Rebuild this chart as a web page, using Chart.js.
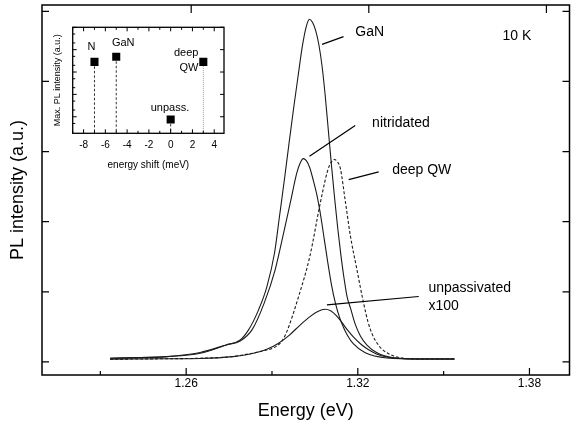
<!DOCTYPE html>
<html>
<head>
<meta charset="utf-8">
<script src="https://cdn.jsdelivr.net/npm/chart.js@4"></script>
<style>
  html, body { margin:0; padding:0; background:#fff; }
  #wrap { position:relative; width:572px; height:434px; }
  #main { position:absolute; left:0; top:0; }
  #inset { position:absolute; left:48px; top:20px; }
</style>
</head>
<body>
<div id="wrap">
  <canvas id="main" width="572" height="434" style="width:572px;height:434px"></canvas>
  <canvas id="inset" width="185" height="155" style="width:185px;height:155px"></canvas>
</div>
<script>
// main spectra, energy in eV, PL intensity in a.u.
const ganE = [1.2334,1.2532,1.2649,1.2740,1.2789,1.2818,1.2853,1.2882,1.2909,1.2926,1.2944,1.2959,1.2975,1.2992,1.3006,1.3020,1.3031,1.3042,1.3053,1.3064,1.3075,1.3086,1.3097,1.3108,1.3119,1.3130,1.3141,1.3152,1.3163,1.3175,1.3190,1.3209,1.3232,1.3267,1.3324,1.3419,1.3538];
const ganI = [0.053,0.076,0.124,0.243,0.314,0.457,0.743,1.071,1.557,2.07,2.62,3.10,3.60,4.10,4.50,4.786,4.886,4.84,4.72,4.52,4.22,3.80,3.30,2.80,2.33,1.90,1.52,1.19,0.92,0.76,0.55,0.37,0.24,0.13,0.06,0.043,0.043];

const nitE = [1.2334,1.2532,1.2649,1.2740,1.2789,1.2830,1.2873,1.2911,1.2938,1.2964,1.2987,1.2999,1.3009,1.3020,1.3032,1.3045,1.3058,1.3070,1.3082,1.3095,1.3108,1.3121,1.3135,1.3150,1.3165,1.3184,1.3226,1.3302,1.3419,1.3538];
const nitI = [0.053,0.076,0.136,0.243,0.30,0.457,0.843,1.314,1.79,2.271,2.70,2.84,2.90,2.87,2.77,2.58,2.36,2.09,1.77,1.42,1.10,0.85,0.65,0.49,0.37,0.26,0.13,0.057,0.043,0.043];

const qwE = [1.2334,1.2532,1.2649,1.2764,1.2882,1.2905,1.2929,1.2945,1.2960,1.2993,1.3032,1.3069,1.3094,1.3107,1.3118,1.3128,1.3139,1.3156,1.3174,1.3197,1.3220,1.3235,1.3250,1.3267,1.3285,1.3302,1.3337,1.3419,1.3538];
const qwI = [0.039,0.046,0.053,0.079,0.171,0.20,0.27,0.37,0.52,0.933,1.50,2.271,2.72,2.85,2.886,2.857,2.76,2.30,1.80,1.314,0.843,0.58,0.40,0.27,0.18,0.13,0.07,0.043,0.043];

const unpE = [1.2334,1.2532,1.2649,1.2764,1.2820,1.2882,1.2920,1.2960,1.2999,1.3034,1.3060,1.3085,1.3105,1.3125,1.3145,1.3165,1.3186,1.3209,1.3235,1.3265,1.3302,1.3350,1.3419,1.3538];
const unpI = [0.039,0.046,0.050,0.076,0.11,0.18,0.26,0.38,0.53,0.65,0.72,0.752,0.73,0.66,0.56,0.45,0.35,0.26,0.18,0.115,0.07,0.05,0.043,0.043];

const xTickLabels = ['1.26','1.32','1.38'];

// inset: peak shift vs max intensity
const insetNames = ['N','GaN','unpass.','deep QW'];
const shiftMeV = [-7, -5, 0, 3];
const maxPL = [3.455, 3.68, 0.88, 3.455];
const insetTickLabels = ['-8','-6','-4','-2','0','2','4'];

Chart.defaults.font.family = '"Liberation Sans", Arial, sans-serif';
Chart.defaults.color = '#000';

const pts = (xs, ys) => xs.map((v, i) => ({x: v, y: ys[i]}));

function line(data, dash) {
  return {
    data: data, borderColor: '#1a1a1a', borderWidth: 1.1, borderDash: dash || [],
    pointRadius: 0, fill: false, cubicInterpolationMode: 'monotone'
  };
}

// text notes and leader lines, in data units
const notes = [
  {t:'GaN', x:1.3191, y:4.70},
  {t:'10 K', x:1.3706, y:4.643},
  {t:'nitridated', x:1.3250, y:3.40},
  {t:'deep QW', x:1.3320, y:2.733},
  {t:'unpassivated', x:1.3447, y:1.057},
  {t:'x100', x:1.3447, y:0.79}
];
const leaders = [
  [1.3075,4.529, 1.3150,4.639],
  [1.3031,2.933, 1.3191,3.371],
  [1.3168,2.600, 1.3273,2.710],
  [1.3092,0.814, 1.3413,0.933]
];

const frame = {
  id: 'frame',
  afterDatasetsDraw(chart) {
    const {ctx, chartArea: a, scales: {x, y, x2}} = chart;
    ctx.save();
    ctx.strokeStyle = '#000';
    ctx.lineWidth = 1.5;
    ctx.strokeRect(a.left, a.top, a.right - a.left, a.bottom - a.top);
    ctx.lineWidth = 1.2;
    ctx.beginPath();
    x.ticks.forEach(t => {
      const px = x.getPixelForValue(t.value);
      ctx.moveTo(px, a.bottom);
      ctx.lineTo(px, a.bottom - (t.label ? 7 : 4));
    });
    x2.ticks.forEach(t => {
      const px = x2.getPixelForValue(t.value);
      ctx.moveTo(px, a.top);
      ctx.lineTo(px, a.top + 8);
    });
    y.ticks.forEach(t => {
      const py = y.getPixelForValue(t.value);
      ctx.moveTo(a.left, py); ctx.lineTo(a.left + 7, py);
      ctx.moveTo(a.right, py); ctx.lineTo(a.right - 7, py);
    });
    leaders.forEach(l => {
      ctx.moveTo(x.getPixelForValue(l[0]), y.getPixelForValue(l[1]));
      ctx.lineTo(x.getPixelForValue(l[2]), y.getPixelForValue(l[3]));
    });
    ctx.stroke();
    ctx.fillStyle = '#000';
    ctx.font = '14px "Liberation Sans", Arial, sans-serif';
    ctx.textAlign = 'left';
    ctx.textBaseline = 'middle';
    notes.forEach(n => ctx.fillText(n.t, x.getPixelForValue(n.x), y.getPixelForValue(n.y)));
    ctx.restore();
  }
};

new Chart(document.getElementById('main'), {
  type: 'line',
  data: {
    datasets: [
      line(pts(ganE, ganI)),
      line(pts(nitE, nitI)),
      line(pts(qwE, qwI), [3, 2]),
      line(pts(unpE, unpI))
    ]
  },
  options: {
    responsive: false, animation: false, events: [],
    layout: {padding: {top: 5, right: 2.5, left: 0, bottom: 0}},
    plugins: {legend: {display: false}, tooltip: {enabled: false}},
    scales: {
      x: {
        type: 'linear', min: 1.2096, max: 1.394,
        grid: {display: false, drawTicks: false}, border: {display: false},
        ticks: {
          stepSize: 0.03, includeBounds: false, autoSkip: false, maxRotation: 0,
          padding: 1, font: {size: 12}, color: '#000',
          callback: v => { const s = v.toFixed(2); return xTickLabels.includes(s) ? s : ''; }
        },
        title: {display: true, text: 'Energy (eV)', font: {size: 18}, color: '#000', padding: {top: 0, bottom: 12}},
        afterFit: s => { s.height = 59; }
      },
      x2: {
        type: 'linear', position: 'top', display: false, min: 1.2096, max: 1.3878,
        ticks: {stepSize: 0.06, includeBounds: false}
      },
      y: {
        min: -0.186, max: 5.09,
        grid: {display: false, drawTicks: false}, border: {display: false},
        ticks: {display: false, stepSize: 1, includeBounds: false},
        title: {display: true, text: 'PL intensity (a.u.)', font: {size: 18}, color: '#000', padding: {top: 7, bottom: 0}},
        afterFit: s => { s.width = 42; }
      }
    }
  },
  plugins: [frame]
});

// inset labels in its data units
const insetNotes = [
  {t:'N', x:-7.27, y:4.125, a:'center'},
  {t:'GaN', x:-4.36, y:4.277, a:'center'},
  {t:'deep', x:2.55, y:3.84, a:'right'},
  {t:'QW', x:2.55, y:3.17, a:'right'},
  {t:'unpass.', x:-0.06, y:1.375, a:'center'}
];

const insetFrame = {
  id: 'insetFrame',
  beforeDatasetsDraw(chart) {
    const {ctx, chartArea: a, scales: {x, y}} = chart;
    ctx.save();
    ctx.lineWidth = 1;
    shiftMeV.forEach((v, i) => {
      const px = x.getPixelForValue(v);
      const deep = insetNames[i] === 'deep QW';
      ctx.strokeStyle = deep ? '#9a9a9a' : '#333';
      ctx.setLineDash(deep ? [1, 1] : [2.5, 2]);
      ctx.beginPath();
      ctx.moveTo(px, y.getPixelForValue(maxPL[i]));
      ctx.lineTo(px, a.bottom);
      ctx.stroke();
    });
    ctx.restore();
  },
  afterDatasetsDraw(chart) {
    const {ctx, chartArea: a, scales: {x, y}} = chart;
    ctx.save();
    ctx.strokeStyle = '#000';
    ctx.lineWidth = 1.3;
    ctx.strokeRect(a.left, a.top, a.right - a.left, a.bottom - a.top);
    ctx.lineWidth = 1;
    ctx.beginPath();
    x.ticks.forEach(t => {
      const px = x.getPixelForValue(t.value);
      const len = t.label ? 4 : 2.5;
      ctx.moveTo(px, a.bottom); ctx.lineTo(px, a.bottom - len);
      ctx.moveTo(px, a.top); ctx.lineTo(px, a.top + len);
    });
    y.ticks.forEach(t => {
      const py = y.getPixelForValue(t.value);
      ctx.moveTo(a.left, py); ctx.lineTo(a.left + 4, py);
      ctx.moveTo(a.right, py); ctx.lineTo(a.right - 4, py);
      [0.3, 0.7].forEach(o => {
        const pm = y.getPixelForValue(t.value - o);
        if (pm < a.bottom - 1) { ctx.moveTo(a.left, pm); ctx.lineTo(a.left + 2.5, pm); }
      });
    });
    ctx.stroke();
    ctx.fillStyle = '#000';
    ctx.font = '11px "Liberation Sans", Arial, sans-serif';
    ctx.textBaseline = 'middle';
    insetNotes.forEach(n => {
      ctx.textAlign = n.a;
      ctx.fillText(n.t, x.getPixelForValue(n.x), y.getPixelForValue(n.y));
    });
    ctx.restore();
  }
};

new Chart(document.getElementById('inset'), {
  type: 'scatter',
  data: {
    datasets: [{
      data: pts(shiftMeV, maxPL),
      pointStyle: 'rect', pointRadius: 5.7, borderWidth: 0,
      backgroundColor: '#000', borderColor: '#000'
    }]
  },
  options: {
    responsive: false, animation: false, events: [],
    layout: {padding: {top: 7.3, right: 9, left: 0, bottom: 0}},
    plugins: {legend: {display: false}, tooltip: {enabled: false}},
    scales: {
      x: {
        type: 'linear', min: -9, max: 4.9,
        grid: {display: false, drawTicks: false}, border: {display: false},
        ticks: {
          stepSize: 1, includeBounds: false, autoSkip: false, maxRotation: 0,
          padding: 6, font: {size: 10}, color: '#000',
          callback: v => insetTickLabels.includes(String(v)) ? String(v) : ''
        },
        title: {display: true, text: 'energy shift (meV)', font: {size: 10}, color: '#000', padding: {top: 0, bottom: 4}},
        afterFit: s => { s.height = 41.7; }
      },
      y: {
        min: 0.26, max: 5,
        grid: {display: false, drawTicks: false}, border: {display: false},
        ticks: {display: false, stepSize: 1, includeBounds: false},
        title: {display: true, text: 'Max. PL intensity (a.u.)', font: {size: 9}, color: '#000', padding: {top: 4.6, bottom: 0}},
        afterFit: s => { s.width = 24.7; }
      }
    }
  },
  plugins: [insetFrame]
});
</script>
</body>
</html>
